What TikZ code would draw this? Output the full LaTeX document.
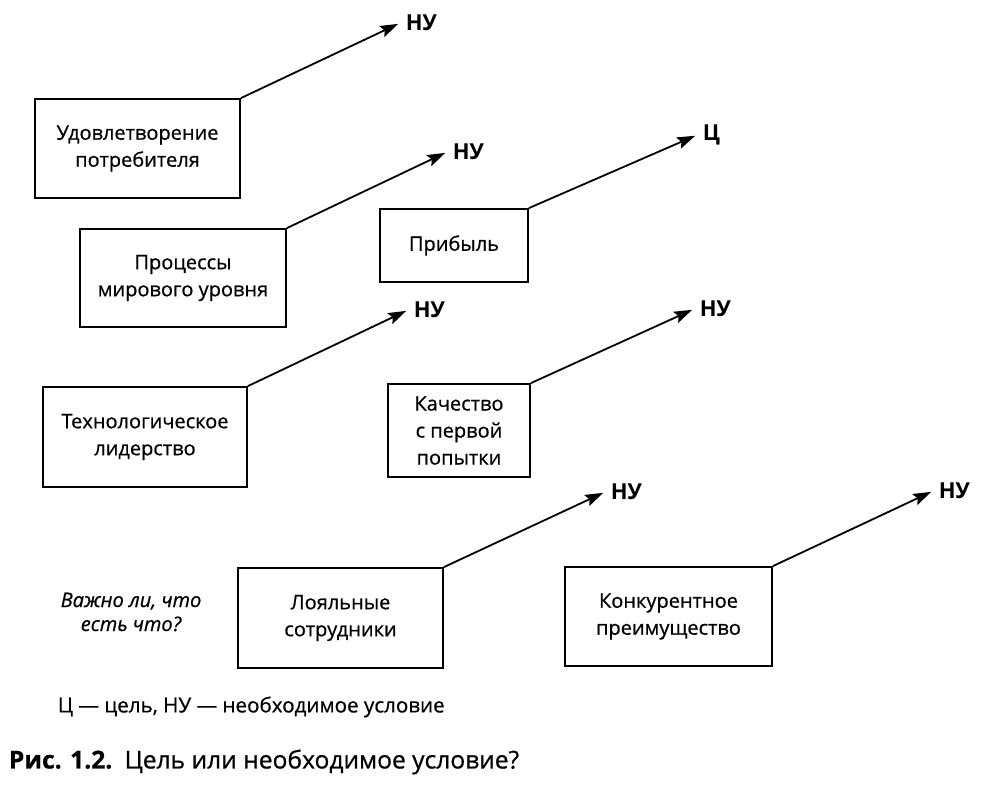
\documentclass[tikz,border=0pt]{standalone}
\usepackage{fontspec}
\setmainfont{Open Sans}
\newfontfamily\semifont[FakeBold=0.7]{Open Sans}
\usetikzlibrary{arrows.meta}
\usetikzlibrary{positioning}

\begin{document}
\begin{tikzpicture}[x=0.5pt,y=-0.5pt,>={Stealth[length=9pt,width=6pt,inset=1.5pt]},
	shorten >=1pt,line width=0.9pt,
	box node/.style={rectangle,draw,align=center,inner sep=0pt,
		font=\semifont\fontsize{10}{13.5}\selectfont},
	mark node/.style={anchor=west,inner sep=2.5pt,font=\bfseries\fontsize{11}{12}\selectfont}]
	\useasboundingbox (0,0) rectangle (982,788);
	
	\node[box node,minimum width=102.5pt,minimum height=49.5pt] (ud) at (137.5,148.5) {Удовлетворение\\потребителя};
	\node[box node,minimum width=103pt,minimum height=49pt] (proc) at (183,278) {Процессы\\мирового уровня};
	\node[box node,minimum width=74pt,minimum height=36.5pt] (prib) at (454,245.5) {Прибыль};
	\node[box node,minimum width=102pt,minimum height=50pt] (tech) at (145,437) {Технологическое\\лидерство};
	\node[box node,minimum width=71pt,minimum height=46.5pt] (kach) at (459,430.5) {Качество\\с первой\\попытки};
	\node[box node,minimum width=102.5pt,minimum height=50pt] (loy) at (340.5,618) {Лояльные\\сотрудники};
	\node[box node,minimum width=103.5pt,minimum height=49.5pt] (konk) at (668.5,616.5) {Конкурентное\\преимущество};
	
	\node[mark node] (ud-m) at (400,23) {НУ};
	\node[mark node] (proc-m) at (447,152) {НУ};
	\node[mark node] (prib-m) at (697,135) {Ц};
	\node[mark node] (tech-m) at (408,310) {НУ};
	\node[mark node] (kach-m) at (694,309) {НУ};
	\node[mark node] (loy-m) at (605,492) {НУ};
	\node[mark node] (konk-m) at (933,491) {НУ};
	
	\foreach \b in {ud,proc,prib,tech,kach,loy,konk}
	\draw[->] (\b.north east) -- (\b-m.west);
	
	\node[align=center,font=\semifont\itshape\fontsize{10}{12}\selectfont] (vazh) at (131,612) {Важно ли, что\\есть что?};
	\node[anchor=west,inner sep=0pt,font=\semifont\fontsize{10.3}{12}\selectfont] (leg) at (57,707) {Ц — цель, НУ — необходимое условие};
	\node[anchor=west,inner sep=0pt,font=\semifont\fontsize{12.3}{14}\selectfont] (cap) at (8,762) {\textbf{Рис. 1.2.}\enspace Цель или необходимое условие?};
\end{tikzpicture}
\end{document}
